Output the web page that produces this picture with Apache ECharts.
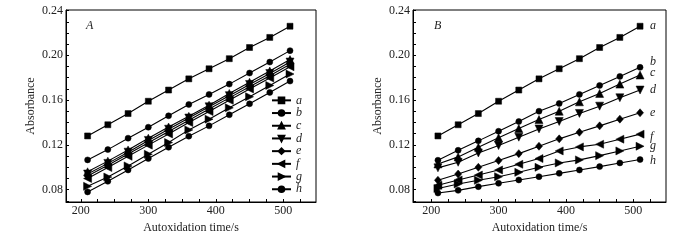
<!DOCTYPE html>
<html><head><meta charset="utf-8">
<script src="https://cdn.jsdelivr.net/npm/echarts@6/dist/echarts.min.js"></script>
<style>html,body{margin:0;padding:0;background:#fff}#c{width:700px;height:240px}</style>
</head><body><div id="c"></div>
<script>
var seriesNames = ['a','b','c','d','e','f','g','h'];
var timeValues = [210,240,270,300,330,360,390,420,450,480,510];
var xTickLabels = [200,300,400,500];
var yTickLabels = [0.08,0.12,0.16,0.20,0.24];
var xTitle = 'Autoxidation time/s';
var yTitle = 'Absorbance';

var A_a = [0.128,0.138,0.148,0.159,0.169,0.179,0.188,0.197,0.207,0.216,0.226];
var A_b = [0.1066,0.1158,0.1260,0.1358,0.1460,0.1561,0.1651,0.1743,0.1842,0.1940,0.2042];
var A_c = [0.0960,0.1055,0.1155,0.1260,0.1360,0.1455,0.1555,0.1660,0.1760,0.1860,0.1962];
var A_d = [0.0940,0.1035,0.1135,0.1240,0.1340,0.1440,0.1540,0.1640,0.1740,0.1838,0.1940];
var A_e = [0.0922,0.1018,0.1118,0.1220,0.1320,0.1420,0.1520,0.1620,0.1720,0.1818,0.1920];
var A_f = [0.0900,0.0998,0.1098,0.1198,0.1298,0.1400,0.1498,0.1598,0.1700,0.1798,0.1898];
var A_g = [0.0830,0.0913,0.1012,0.1116,0.1221,0.1334,0.1430,0.1531,0.1630,0.1731,0.1833];
var A_h = [0.0780,0.0875,0.0976,0.1078,0.1179,0.1278,0.1370,0.1469,0.1567,0.1669,0.1770];

var B_a = [0.128,0.138,0.148,0.159,0.169,0.179,0.188,0.197,0.207,0.216,0.226];
var B_b = [0.1063,0.1152,0.1236,0.1322,0.1409,0.1501,0.1570,0.1651,0.1731,0.1812,0.1893];
var B_c = [0.1030,0.1093,0.1179,0.1263,0.1346,0.1427,0.1501,0.1585,0.1660,0.1743,0.1824];
var B_d = [0.0995,0.1045,0.1128,0.1194,0.1269,0.1343,0.1409,0.1481,0.1546,0.1621,0.1690];
var B_e = [0.0884,0.0940,0.1000,0.1060,0.1122,0.1188,0.1254,0.1313,0.1370,0.1430,0.1487];
var B_f = [0.0839,0.0887,0.0931,0.0976,0.1027,0.1078,0.1146,0.1182,0.1206,0.1251,0.1296];
var B_g = [0.0810,0.0851,0.0884,0.0916,0.0955,0.1000,0.1039,0.1066,0.1104,0.1146,0.1188];
var B_h = [0.0770,0.0794,0.0827,0.0857,0.0887,0.0916,0.0946,0.0976,0.1006,0.1039,0.1069];

var dataA = [A_a,A_b,A_c,A_d,A_e,A_f,A_g,A_h];
var dataB = [B_a,B_b,B_c,B_d,B_e,B_f,B_g,B_h];

var symbols = ['rect','circle','triangle','triangle','diamond','triangle','triangle','circle'];
var rotations = [0,0,0,180,0,90,-90,0];
var sizes = [6,6,8,8,[7,8],8,8,6];
var endOffsets = [[2,0],[2,-5],[2,-2],[2,0],[2,0],[2,3],[2,0],[2,1]];

var FONT = 'Times New Roman, Liberation Serif, serif';

var xTicks = [];
for (var t = 200; t <= 525; t += 25) xTicks.push(t);
var yTicks = [];
for (var k = 7; k <= 24; k++) yTicks.push(k/100);

function xAxis(gi, min) {
  return {
    type:'value', gridIndex:gi, min:min, max:548.5,
    name:xTitle, nameLocation:'middle', nameGap:14,
    nameTextStyle:{fontFamily:FONT,fontSize:12,color:'#222'},
    axisLine:{show:true,lineStyle:{color:'#000',width:1}},
    axisTick:{show:true,inside:true,length:3,customValues:xTicks,lineStyle:{color:'#000'}},
    axisLabel:{customValues:xTickLabels,fontFamily:FONT,fontSize:12,color:'#222',margin:3},
    splitLine:{show:false}
  };
}
function yAxis(gi) {
  return {
    type:'value', gridIndex:gi, min:0.069, max:0.2405,
    name:yTitle, nameLocation:'middle', nameGap:29, nameRotate:90,
    nameTextStyle:{fontFamily:FONT,fontSize:12,color:'#222'},
    axisLine:{show:true,lineStyle:{color:'#000',width:1}},
    axisTick:{show:true,inside:true,length:3,customValues:yTicks,lineStyle:{color:'#000'}},
    axisLabel:{customValues:yTickLabels,fontFamily:FONT,fontSize:12,color:'#222',margin:3,
      formatter:function(v){return v.toFixed(2);}},
    splitLine:{show:false}
  };
}

var series = [];
function mk(arr, gi, withLabel) {
  for (var i = 0; i < arr.length; i++) {
    var pts = timeValues.map(function(x, j){ return [x, arr[i][j]]; });
    var s = {
      type:'line', name:seriesNames[i], xAxisIndex:gi, yAxisIndex:gi, data:pts,
      symbol:symbols[i], symbolRotate:rotations[i], symbolSize:sizes[i],
      showAllSymbol:true,
      lineStyle:{color:'#000',width:1.1},
      itemStyle:{color:'#000', borderColor:'#000', borderWidth:0.5, opacity:1},
      animation:false, silent:true
    };
    if (withLabel) {
      s.endLabel = {show:true, formatter:'{a}', fontFamily:FONT, fontStyle:'italic',
        fontSize:12, color:'#222', distance:8, offset:endOffsets[i]};
    }
    series.push(s);
  }
}
mk(dataA, 0, false);
mk(dataB, 1, true);

var chart = echarts.init(document.getElementById('c'), null, {renderer:'canvas'});
chart.setOption({
  backgroundColor:'#fff',
  animation:false,
  grid:[
    {left:66, top:10, width:250, height:192, show:true, borderColor:'#000', borderWidth:1},
    {left:413, top:10, width:253, height:192, show:true, borderColor:'#000', borderWidth:1}
  ],
  xAxis:[xAxis(0,178), xAxis(1,173)],
  yAxis:[yAxis(0), yAxis(1)],
  legend:{
    data:seriesNames, orient:'vertical', left:271, top:94,
    itemWidth:19, itemHeight:7, itemGap:0,
    textStyle:{fontFamily:FONT,fontStyle:'italic',fontSize:12,color:'#222',lineHeight:12.7},
    selectedMode:false, padding:0
  },
  graphic:[
    {type:'text', left:86, top:20, style:{text:'A', fontFamily:FONT, fontStyle:'italic', fontSize:12, fill:'#222'}},
    {type:'text', left:434, top:20, style:{text:'B', fontFamily:FONT, fontStyle:'italic', fontSize:12, fill:'#222'}}
  ],
  series:series
});
</script></body></html>
